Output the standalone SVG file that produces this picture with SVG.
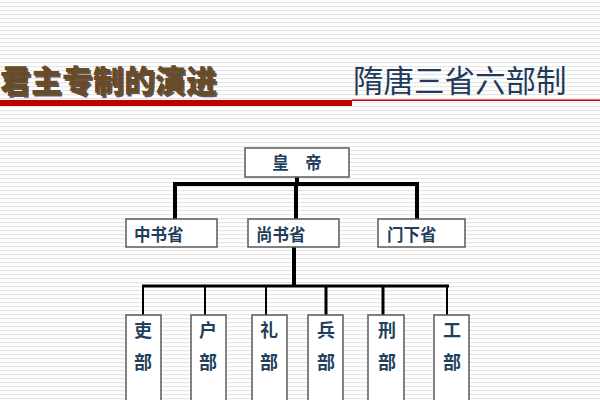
<svg xmlns="http://www.w3.org/2000/svg" width="600" height="400" viewBox="0 0 600 400">
<defs>
<pattern id="stripes" width="8" height="4" patternUnits="userSpaceOnUse">
<rect width="8" height="4" fill="#ffffff"/>
<rect y="2" width="8" height="1.2" fill="#e6e6e6"/>
</pattern>
<style>
.box{fill:#ffffff;stroke:#5a5a5a;stroke-width:1.5}
.lbl{font-family:"Noto Sans CJK SC","Noto Sans",sans-serif;font-size:16.5px;font-weight:700;fill:#1f3f5c}
.vl{font-family:"Noto Sans CJK SC","Noto Sans",sans-serif;font-size:18px;font-weight:700;fill:#1f3f5c;text-anchor:middle}
.thick{stroke:#000;stroke-width:4;fill:none}
.mid{stroke:#000;stroke-width:3;fill:none}
.thin{stroke:#000;stroke-width:2;fill:none}
</style>
</defs>
<rect width="600" height="400" fill="url(#stripes)"/>
<g id="header">
<text x="0" y="92" font-family="'Noto Sans CJK SC',sans-serif" font-size="31" font-weight="900" fill="#1e1206" opacity="0.7" transform="translate(1.5,1.5)">君主专制的演进</text>
<text x="0" y="92" font-family="'Noto Sans CJK SC',sans-serif" font-size="31" font-weight="900" fill="#6a4b27">君主专制的演进</text>
<rect x="0" y="100" width="352" height="6" fill="#c00000"/>
<rect x="352" y="99.5" width="248" height="1.5" fill="#c00000"/>
<text x="353" y="92" font-family="'Noto Sans CJK SC',sans-serif" font-size="30.5" font-weight="400" fill="#1f3a5a">隋唐三省六部制</text>
</g>
<g id="connectors">
<path class="thick" d="M297 177 V184 M173 184 H419 M175 182 V219 M296 182 V219 M417 182 V219"/>
<path class="thick" d="M294 247 V286"/>
<path class="mid" d="M142 286 H449"/>
<path class="thin" d="M143 285 V315 M205 285 V315 M266 285 V315 M447 285 V315"/>
<path class="mid" d="M326 285 V315 M383 285 V315"/>
</g>
<g id="emperor"><rect class="box" x="245" y="148" width="104" height="29"/><text class="lbl" x="297" y="169" text-anchor="middle">皇　帝</text></g>
<g id="zhongshu"><rect class="box" x="126" y="219" width="91" height="28"/><text class="lbl" x="134" y="241">中书省</text></g>
<g id="shangshu"><rect class="box" x="248" y="219" width="91" height="28"/><text class="lbl" x="256" y="241">尚书省</text></g>
<g id="menxia"><rect class="box" x="378" y="219" width="87" height="28"/><text class="lbl" x="387" y="241">门下省</text></g>
<g id="li"><rect class="box" x="126" y="315" width="35" height="95"/><text class="vl" x="143" y="337">吏</text><text class="vl" x="143" y="369">部</text></g>
<g id="hu"><rect class="box" x="191" y="315" width="35" height="95"/><text class="vl" x="208" y="337">户</text><text class="vl" x="208" y="369">部</text></g>
<g id="li2"><rect class="box" x="252" y="315" width="35" height="95"/><text class="vl" x="269" y="337">礼</text><text class="vl" x="269" y="369">部</text></g>
<g id="bing"><rect class="box" x="308" y="315" width="35" height="95"/><text class="vl" x="326" y="337">兵</text><text class="vl" x="326" y="369">部</text></g>
<g id="xing"><rect class="box" x="368" y="315" width="36" height="95"/><text class="vl" x="387" y="337">刑</text><text class="vl" x="387" y="369">部</text></g>
<g id="gong"><rect class="box" x="434" y="315" width="35" height="95"/><text class="vl" x="452" y="337">工</text><text class="vl" x="452" y="369">部</text></g>
</svg>
